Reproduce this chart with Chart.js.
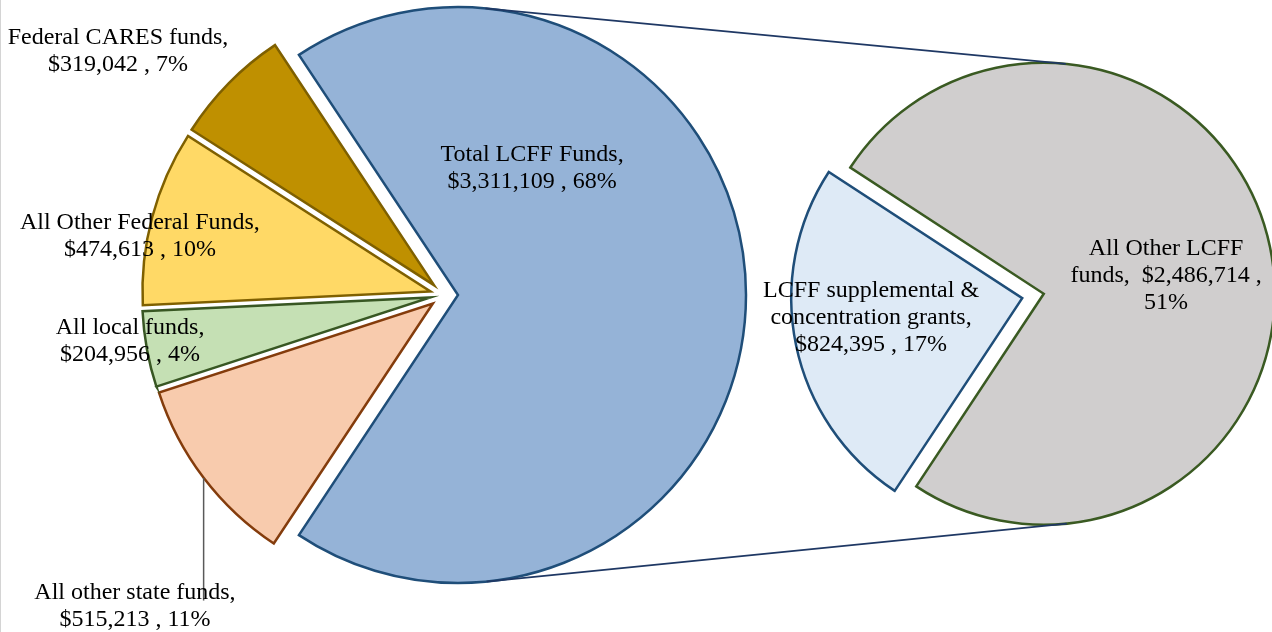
<!DOCTYPE html>
<html lang="en">
<head>
<meta charset="utf-8">
<title>LCFF and other funds</title>
<script src="https://cdn.jsdelivr.net/npm/chart.js@4.4.1/dist/chart.umd.min.js"></script>
<style>
  html, body { margin: 0; padding: 0; background: #fff; overflow: hidden; }
  #wrap { position: relative; width: 1272px; height: 632px; }
  #wrap canvas { position: absolute; left: 0; top: 0; }
  #edge { position: absolute; left: 0; top: 0; width: 1px; height: 632px; background: #d4d4d4; }
</style>
</head>
<body>
<div id="wrap">
  <canvas id="mainPie" width="1272" height="632"></canvas>
  <canvas id="subPie" width="1272" height="632"></canvas>
  <div id="edge"></div>
</div>

<script>
// main pie: all funds
const mainNames = ['Total LCFF Funds', 'All other state funds', 'All local funds', 'All Other Federal Funds', 'Federal CARES funds'];
const mainValues = [3311109, 515213, 204956, 474613, 319042];
const mainText = [
  ['Total LCFF Funds,', '$3,311,109 , 68%'],
  ['All other state funds,', '$515,213 , 11%'],
  ['All local funds,', '$204,956 , 4%'],
  ['All Other Federal Funds,', '$474,613 , 10%'],
  ['Federal CARES funds,', '$319,042 , 7%']
];

// second pie: split of the LCFF slice
const subNames = ['LCFF supplemental & concentration grants', 'All Other LCFF funds'];
const subValues = [824395, 2486714];
const subText = [
  ['LCFF supplemental &', 'concentration grants,', '$824,395 , 17%'],
  ['All Other LCFF', 'funds,  $2,486,714 ,', '51%']
];

// styling
const mainFill = ['#95B3D7', '#F8CBAD', '#C5E0B4', '#FFD966', '#BF9000'];
const mainEdge = ['#1F4E79', '#843C0C', '#385723', '#7F6000', '#7F6000'];
const subFill = ['#DEEAF6', '#D0CECE'];
const subEdge = ['#1F4E79', '#3A5A22'];

// where each label block sits, in units of the pie radius from the pie centre
const mainSpots = [[0.306, -0.441], [-1.073, 1.080], [-1.090, 0.160], [-1.056, -0.205], [-1.132, -0.847]];
const subSpots = [[-0.701, 0.095], [0.576, -0.087]];

const FONT = "24px 'Liberation Serif', 'Times New Roman', serif";
const LINE_H = 27;

const total = arr => arr.reduce((a, b) => a + b, 0);

// push every slice out from the centre along its mid angle
const explodePlugin = {
  id: 'explode',
  afterUpdate(chart, args, opts) {
    const d = opts.distance || 0;
    chart.getDatasetMeta(0).data.forEach(arc => {
      const mid = (arc.startAngle + arc.endAngle) / 2;
      arc.$cx = arc.x;
      arc.$cy = arc.y;
      arc.x = arc.x + Math.cos(mid) * d;
      arc.y = arc.y + Math.sin(mid) * d;
    });
  }
};

// text labels (and the one leader line)
const labelPlugin = {
  id: 'sliceLabels',
  afterDatasetsDraw(chart, args, opts) {
    const ctx = chart.ctx;
    const arcs = chart.getDatasetMeta(0).data;
    const cx = arcs[0].$cx, cy = arcs[0].$cy;
    const r = arcs[0].outerRadius;
    ctx.save();
    opts.text.forEach((lines, i) => {
      const x = cx + opts.spots[i][0] * r;
      const yMid = cy + opts.spots[i][1] * r;
      const y0 = yMid - (lines.length - 1) * LINE_H / 2;
      if (opts.leader === i) {
        const arc = arcs[i];
        const mid = (arc.startAngle + arc.endAngle) / 2;
        const px = arc.x + Math.cos(mid) * arc.outerRadius;
        const py = arc.y + Math.sin(mid) * arc.outerRadius;
        ctx.strokeStyle = '#595959';
        ctx.lineWidth = 1.5;
        ctx.beginPath();
        ctx.moveTo(px, py);
        ctx.lineTo(px, y0 + 8);
        ctx.stroke();
      }
      ctx.fillStyle = '#000';
      ctx.font = FONT;
      ctx.textAlign = 'center';
      ctx.textBaseline = 'middle';
      lines.forEach((t, k) => ctx.fillText(t, x, y0 + k * LINE_H));
    });
    ctx.restore();
  }
};

// the two lines joining the LCFF slice to the second pie
function outerTangents(a, b) {
  const dx = b.x - a.x, dy = b.y - a.y;
  const D = Math.hypot(dx, dy);
  const phi = Math.atan2(dy, dx);
  const g = Math.acos((a.r - b.r) / D);
  return [phi - g, phi + g].map(t => [
    { x: a.x + a.r * Math.cos(t), y: a.y + a.r * Math.sin(t) },
    { x: b.x + b.r * Math.cos(t), y: b.y + b.r * Math.sin(t) }
  ]);
}

const seriesLines = {
  id: 'seriesLines',
  afterDatasetsDraw(chart) {
    const big = mainChart.getDatasetMeta(0).data[0];
    const rest = chart.getDatasetMeta(0).data[1];
    const pairs = outerTangents(
      { x: big.x, y: big.y, r: big.outerRadius },
      { x: rest.x, y: rest.y, r: rest.outerRadius }
    );
    const ctx = chart.ctx;
    ctx.save();
    ctx.strokeStyle = '#1F3864';
    ctx.lineWidth = 1.8;
    pairs.forEach(([p, q]) => {
      ctx.beginPath();
      ctx.moveTo(p.x, p.y);
      ctx.lineTo(q.x, q.y);
      ctx.stroke();
    });
    ctx.restore();
  }
};

const mainChart = new Chart(document.getElementById('mainPie'), {
  type: 'pie',
  data: {
    labels: mainNames,
    datasets: [{
      data: mainValues,
      backgroundColor: mainFill,
      borderColor: mainEdge,
      borderWidth: 2.5,
      borderJoinStyle: 'miter',
      clip: false
    }]
  },
  options: {
    responsive: false,
    animation: false,
    events: [],
    radius: 288,
    // LCFF slice centred on the right
    rotation: 90 - 180 * mainValues[0] / total(mainValues),
    layout: { padding: { left: 0, right: 384, top: 0, bottom: 42 } },
    plugins: {
      legend: { display: false },
      tooltip: { enabled: false },
      explode: { distance: 14 },
      sliceLabels: { text: mainText, spots: mainSpots, leader: 1 }
    }
  },
  plugins: [explodePlugin, labelPlugin]
});

const subChart = new Chart(document.getElementById('subPie'), {
  type: 'pie',
  data: {
    labels: subNames,
    datasets: [{
      data: subValues,
      backgroundColor: subFill,
      borderColor: subEdge,
      borderWidth: 2.5,
      borderJoinStyle: 'miter',
      clip: false
    }]
  },
  options: {
    responsive: false,
    animation: false,
    events: [],
    radius: 231,
    rotation: 213.5,
    layout: { padding: { left: 794, right: 0, top: 0, bottom: 40 } },
    plugins: {
      legend: { display: false },
      tooltip: { enabled: false },
      explode: { distance: 11 },
      sliceLabels: { text: subText, spots: subSpots }
    }
  },
  plugins: [explodePlugin, labelPlugin, seriesLines]
});
</script>
</body>
</html>
